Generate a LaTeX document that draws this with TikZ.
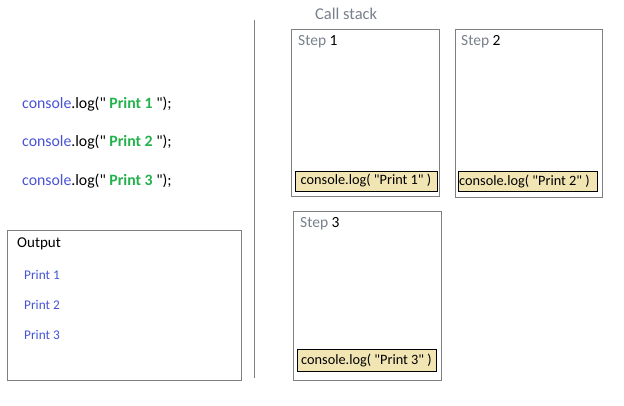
\documentclass[tikz,border=0pt]{standalone}
\usepackage{fontspec}
\setmainfont{Carlito}[Ligatures=TeXOff]
\usetikzlibrary{positioning}
\definecolor{framegray}{RGB}{128,128,128}
\definecolor{labelgray}{RGB}{120,128,140}
\definecolor{codeblue}{RGB}{72,82,214}
\definecolor{printgreen}{RGB}{34,177,76}
\definecolor{outblue}{RGB}{66,84,210}
\definecolor{stackfill}{RGB}{241,229,180}
\tikzset{
	frame/.style={draw=framegray, line width=1pt},
	codeline/.style={anchor=west, inner sep=0pt, font=\fontsize{15.8}{18}\selectfont},
	outline/.style={anchor=west, inner sep=0pt, text=outblue, font=\fontsize{13.3}{15}\selectfont},
	steplabel/.style={anchor=west, inner sep=0pt, font=\fontsize{15.5}{18}\selectfont},
	frameentry/.style={draw=black, fill=stackfill, line width=0.8pt, inner sep=0pt,
		minimum height=20pt, font=\fontsize{14.3}{17}\selectfont}
}
\newcommand{\qt}{"}
\newcommand{\codetext}[1]{\textcolor{codeblue}{console}.log(\qt{} \textbf{\textcolor{printgreen}{Print #1}} \qt);}
\newcommand{\entrytext}[1]{console.log( \qt Print #1\qt{} )}
\newcommand{\steptext}[1]{\textcolor{labelgray}{Step} #1}
\begin{document}
\begin{tikzpicture}[x=1pt, y=-1pt]
		\useasboundingbox (0,0) rectangle (624,406);
		% source code
		\node[codeline] (l1) at (22,104) {\codetext{1}};
		\node[codeline] (l2) at (22,142) {\codetext{2}};
		\node[codeline] (l3) at (22,181) {\codetext{3}};
		% output panel
		\draw[frame] (7,231) rectangle (241,380);
		\node[codeline, font=\fontsize{15}{18}\selectfont] (out) at (17,244) {Output};
		\node[outline] (o1) at (24,275) {Print 1};
		\node[outline] (o2) at (24,305) {Print 2};
		\node[outline] (o3) at (24,335) {Print 3};
		% divider
		\coordinate (top) at (254,20);
		\coordinate (bot) at (254,378);
		\draw[framegray, line width=1pt] (top) -- (bot);
		% call stack
		\node[steplabel, text=labelgray, font=\fontsize{16.5}{19}\selectfont] (cs) at (315,14) {Call stack};
		\draw[frame] (291,30) rectangle (439,197);
		\draw[frame] (455,30) rectangle (602,198);
		\draw[frame] (293,212) rectangle (441,380);
		\node[steplabel] (s1) at (298,42) {\steptext{1}};
		\node[steplabel] (s2) at (461,42) {\steptext{2}};
		\node[steplabel] (s3) at (300,224) {\steptext{3}};
		\node[frameentry, minimum width=142pt] (f1) at (366,181) {\entrytext{1}};
		\node[frameentry, minimum width=139pt] (f2) at (527.5,181.5) {\hspace{-6pt}\entrytext{2}};
		\node[frameentry, minimum width=139pt, minimum height=22pt] (f3) at (366.5,360.5) {\entrytext{3}};
\end{tikzpicture}
\end{document}
